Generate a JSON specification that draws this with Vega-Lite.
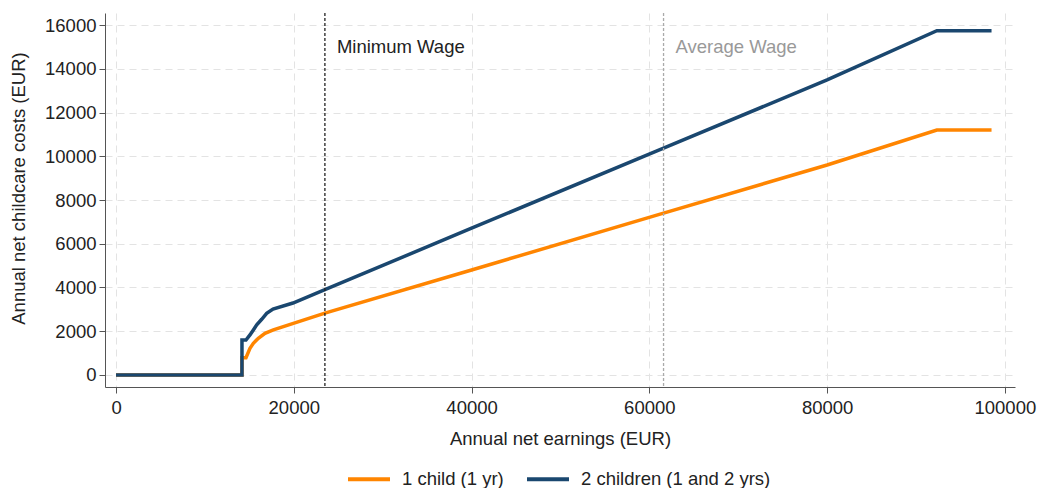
{
  "$schema": "https://vega.github.io/schema/vega-lite/v6.json",
  "autosize": {"type": "none"},
  "padding": {"left": 105, "top": 13, "right": 22, "bottom": 101},
  "width": 910,
  "height": 374,
  "background": "white",
  "config": {
    "view": {"stroke": null},
    "font": "Liberation Sans",
    "axis": {
      "labelFont": "Liberation Sans",
      "titleFont": "Liberation Sans",
      "labelFontSize": 18.5,
      "titleFontSize": 18.5,
      "labelColor": "#222",
      "titleColor": "#222",
      "titleFontWeight": "normal",
      "domainColor": "#555",
      "tickColor": "#555",
      "tickSize": 6,
      "gridColor": "#e3e3e3",
      "gridDash": [7, 5],
      "gridWidth": 1
    },
    "legend": {
      "labelFont": "Liberation Sans",
      "labelFontSize": 18.5,
      "labelColor": "#222",
      "labelLimit": 400
    }
  },
  "datasets": {
    "series": [
      {"earnings": 0, "cost": 0, "group": "1 child (1 yr)"},
      {"earnings": 14170, "cost": 0, "group": "1 child (1 yr)"},
      {"earnings": 14170, "cost": 790, "group": "1 child (1 yr)"},
      {"earnings": 14620, "cost": 790, "group": "1 child (1 yr)"},
      {"earnings": 15070, "cost": 1220, "group": "1 child (1 yr)"},
      {"earnings": 15450, "cost": 1450, "group": "1 child (1 yr)"},
      {"earnings": 16010, "cost": 1680, "group": "1 child (1 yr)"},
      {"earnings": 16760, "cost": 1905, "group": "1 child (1 yr)"},
      {"earnings": 17700, "cost": 2060, "group": "1 child (1 yr)"},
      {"earnings": 19950, "cost": 2360, "group": "1 child (1 yr)"},
      {"earnings": 23500, "cost": 2830, "group": "1 child (1 yr)"},
      {"earnings": 40000, "cost": 4800, "group": "1 child (1 yr)"},
      {"earnings": 61600, "cost": 7400, "group": "1 child (1 yr)"},
      {"earnings": 80000, "cost": 9600, "group": "1 child (1 yr)"},
      {"earnings": 92350, "cost": 11200, "group": "1 child (1 yr)"},
      {"earnings": 98500, "cost": 11200, "group": "1 child (1 yr)"},
      {"earnings": 0, "cost": 0, "group": "2 children (1 and 2 yrs)"},
      {"earnings": 14170, "cost": 0, "group": "2 children (1 and 2 yrs)"},
      {"earnings": 14170, "cost": 1600, "group": "2 children (1 and 2 yrs)"},
      {"earnings": 14620, "cost": 1600, "group": "2 children (1 and 2 yrs)"},
      {"earnings": 15070, "cost": 1830, "group": "2 children (1 and 2 yrs)"},
      {"earnings": 15450, "cost": 2060, "group": "2 children (1 and 2 yrs)"},
      {"earnings": 15830, "cost": 2290, "group": "2 children (1 and 2 yrs)"},
      {"earnings": 16390, "cost": 2546, "group": "2 children (1 and 2 yrs)"},
      {"earnings": 16950, "cost": 2820, "group": "2 children (1 and 2 yrs)"},
      {"earnings": 17660, "cost": 3017, "group": "2 children (1 and 2 yrs)"},
      {"earnings": 19910, "cost": 3290, "group": "2 children (1 and 2 yrs)"},
      {"earnings": 23500, "cost": 3900, "group": "2 children (1 and 2 yrs)"},
      {"earnings": 40000, "cost": 6710, "group": "2 children (1 and 2 yrs)"},
      {"earnings": 61600, "cost": 10370, "group": "2 children (1 and 2 yrs)"},
      {"earnings": 80000, "cost": 13490, "group": "2 children (1 and 2 yrs)"},
      {"earnings": 92350, "cost": 15740, "group": "2 children (1 and 2 yrs)"},
      {"earnings": 98500, "cost": 15740, "group": "2 children (1 and 2 yrs)"}
    ],
    "marks": [
      {"wage": 23500, "label": "Minimum Wage", "ypos": 15000},
      {"wage": 61600, "label": "Average Wage", "ypos": 15000}
    ]
  },
  "layer": [
    {
      "data": {"name": "series"},
      "mark": {"type": "line", "strokeWidth": 3.5, "strokeCap": "butt", "strokeJoin": "miter"},
      "encoding": {
        "x": {
          "field": "earnings", "type": "quantitative",
          "scale": {"domain": [-1240, 101140], "nice": false, "zero": false},
          "axis": {
            "title": "Annual net earnings (EUR)",
            "values": [0, 20000, 40000, 60000, 80000, 100000],
            "format": "d",
            "labelPadding": 5,
            "titleY": 51,
            "titleBaseline": "middle",
            "grid": true,
            "labelFlush": false
          }
        },
        "y": {
          "field": "cost", "type": "quantitative",
          "scale": {"domain": [-550, 16550], "nice": false, "zero": false},
          "axis": {
            "title": "Annual net childcare costs (EUR)",
            "values": [0, 2000, 4000, 6000, 8000, 10000, 12000, 14000, 16000],
            "format": "d",
            "labelPadding": 3,
            "titleX": -87,
            "titleY": 175,
            "titleBaseline": "middle",
            "titleAlign": "center",
            "grid": true,
            "labelFlush": false
          }
        },
        "color": {
          "field": "group", "type": "nominal",
          "scale": {"domain": ["1 child (1 yr)", "2 children (1 and 2 yrs)"], "range": ["#ff8500", "#1a476f"]},
          "legend": {
            "title": null,
            "orient": "none",
            "direction": "horizontal",
            "legendX": 241,
            "legendY": 443,
            "padding": 0,
            "symbolType": "stroke",
            "symbolSize": 1764,
            "symbolStrokeWidth": 4,
            "labelOffset": 10,
            "labelLimit": 400,
            "columnPadding": 15
          }
        }
      }
    },
    {
      "data": {"name": "marks"},
      "transform": [{"filter": "datum.label == 'Minimum Wage'"}],
      "mark": {"type": "rule", "color": "#222", "strokeDash": [3, 2], "strokeWidth": 1.3},
      "encoding": {"x": {"field": "wage", "type": "quantitative"}}
    },
    {
      "data": {"name": "marks"},
      "transform": [{"filter": "datum.label == 'Average Wage'"}],
      "mark": {"type": "rule", "color": "#aaaaaa", "strokeDash": [3, 2], "strokeWidth": 1.3},
      "encoding": {"x": {"field": "wage", "type": "quantitative"}}
    },
    {
      "data": {"name": "marks"},
      "transform": [{"filter": "datum.label == 'Minimum Wage'"}],
      "mark": {"type": "text", "align": "left", "baseline": "middle", "dx": 12, "fontSize": 18.5, "font": "Liberation Sans", "color": "#222"},
      "encoding": {
        "x": {"field": "wage", "type": "quantitative"},
        "y": {"field": "ypos", "type": "quantitative"},
        "text": {"field": "label"}
      }
    },
    {
      "data": {"name": "marks"},
      "transform": [{"filter": "datum.label == 'Average Wage'"}],
      "mark": {"type": "text", "align": "left", "baseline": "middle", "dx": 12, "fontSize": 18.5, "font": "Liberation Sans", "color": "#999999"},
      "encoding": {
        "x": {"field": "wage", "type": "quantitative"},
        "y": {"field": "ypos", "type": "quantitative"},
        "text": {"field": "label"}
      }
    }
  ]
}
